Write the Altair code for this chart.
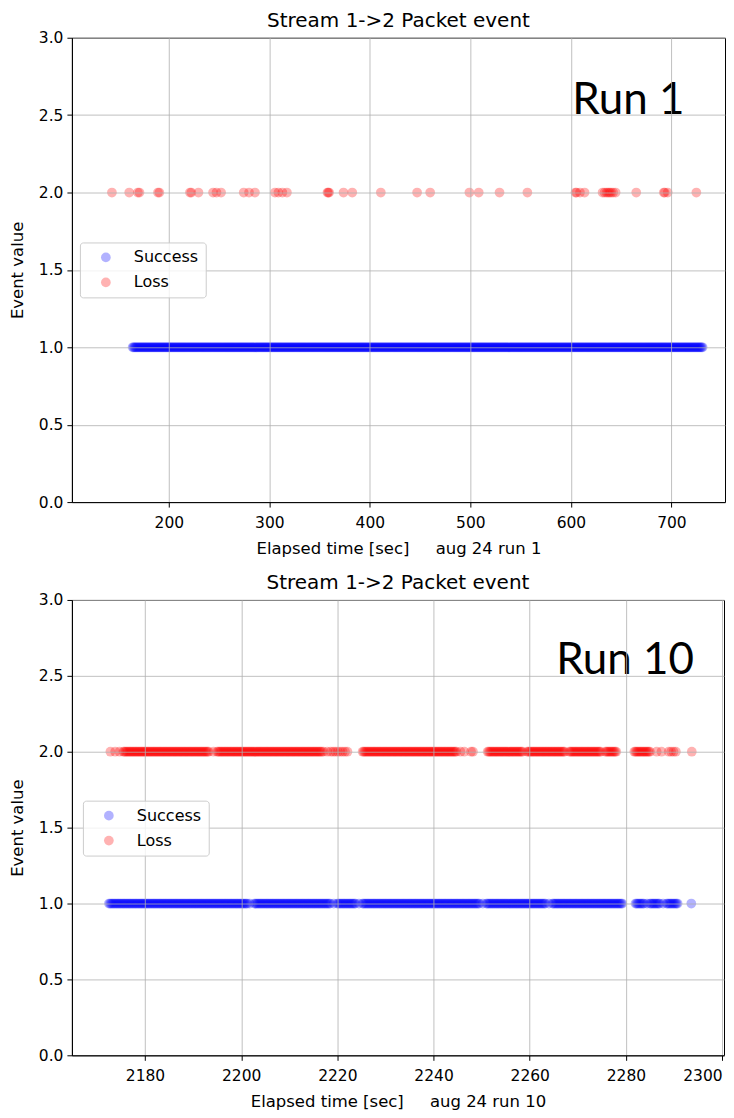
import altair as alt
import pandas as pd

FONT = "DejaVu Sans"
NBSP = "\u00a0"

# ---------------- data ----------------
series_names = ["Success", "Loss"]
series_colors = ["#0000ff", "#ff0000"]
series_event_value = [1.0, 2.0]

y_ticks = [0.0, 0.5, 1.0, 1.5, 2.0, 2.5, 3.0]
run1_x_ticks = [200, 300, 400, 500, 600, 700]
run10_x_ticks = [2180, 2200, 2220, 2240, 2260, 2280, 2300]

chart_title = "Stream 1->2 Packet event"
y_title = "Event value"
run1_x_title = "Elapsed time [sec]" + NBSP * 5 + "aug 24 run 1"
run10_x_title = "Elapsed time [sec]" + NBSP * 5 + "aug 24 run 10"
run1_label = ["Run 1"]
run10_label = ["Run 10"]

# Run 1: lost packets (sparse)
run1_loss_t = [143.4, 160.6, 169.2, 170.8, 189.2, 190.6, 221.0, 222.4, 229.5, 244.0,
               247.4, 252.0, 274.5, 279.8, 285.7, 305.6, 309.0, 313.0, 317.5, 357.8,
               358.6, 359.5, 373.8, 382.5, 410.9, 447.0, 460.0, 499.0, 508.3, 529.0,
               556.7, 604.5, 605.6, 609.0, 613.6, 631.5, 633.5, 635.5, 637.0, 638.5,
               640.0, 642.0, 644.5, 665.0, 692.4, 693.4, 696.3, 724.8]

# Run 1: successful packets (continuous band, one per second)
run1_success_t = [
    164, 165, 166, 167, 168, 169, 170, 171, 172, 173, 174, 175, 176, 177, 178, 179, 180, 181, 182, 183,
    184, 185, 186, 187, 188, 189, 190, 191, 192, 193, 194, 195, 196, 197, 198, 199, 200, 201, 202, 203,
    204, 205, 206, 207, 208, 209, 210, 211, 212, 213, 214, 215, 216, 217, 218, 219, 220, 221, 222, 223,
    224, 225, 226, 227, 228, 229, 230, 231, 232, 233, 234, 235, 236, 237, 238, 239, 240, 241, 242, 243,
    244, 245, 246, 247, 248, 249, 250, 251, 252, 253, 254, 255, 256, 257, 258, 259, 260, 261, 262, 263,
    264, 265, 266, 267, 268, 269, 270, 271, 272, 273, 274, 275, 276, 277, 278, 279, 280, 281, 282, 283,
    284, 285, 286, 287, 288, 289, 290, 291, 292, 293, 294, 295, 296, 297, 298, 299, 300, 301, 302, 303,
    304, 305, 306, 307, 308, 309, 310, 311, 312, 313, 314, 315, 316, 317, 318, 319, 320, 321, 322, 323,
    324, 325, 326, 327, 328, 329, 330, 331, 332, 333, 334, 335, 336, 337, 338, 339, 340, 341, 342, 343,
    344, 345, 346, 347, 348, 349, 350, 351, 352, 353, 354, 355, 356, 357, 358, 359, 360, 361, 362, 363,
    364, 365, 366, 367, 368, 369, 370, 371, 372, 373, 374, 375, 376, 377, 378, 379, 380, 381, 382, 383,
    384, 385, 386, 387, 388, 389, 390, 391, 392, 393, 394, 395, 396, 397, 398, 399, 400, 401, 402, 403,
    404, 405, 406, 407, 408, 409, 410, 411, 412, 413, 414, 415, 416, 417, 418, 419, 420, 421, 422, 423,
    424, 425, 426, 427, 428, 429, 430, 431, 432, 433, 434, 435, 436, 437, 438, 439, 440, 441, 442, 443,
    444, 445, 446, 447, 448, 449, 450, 451, 452, 453, 454, 455, 456, 457, 458, 459, 460, 461, 462, 463,
    464, 465, 466, 467, 468, 469, 470, 471, 472, 473, 474, 475, 476, 477, 478, 479, 480, 481, 482, 483,
    484, 485, 486, 487, 488, 489, 490, 491, 492, 493, 494, 495, 496, 497, 498, 499, 500, 501, 502, 503,
    504, 505, 506, 507, 508, 509, 510, 511, 512, 513, 514, 515, 516, 517, 518, 519, 520, 521, 522, 523,
    524, 525, 526, 527, 528, 529, 530, 531, 532, 533, 534, 535, 536, 537, 538, 539, 540, 541, 542, 543,
    544, 545, 546, 547, 548, 549, 550, 551, 552, 553, 554, 555, 556, 557, 558, 559, 560, 561, 562, 563,
    564, 565, 566, 567, 568, 569, 570, 571, 572, 573, 574, 575, 576, 577, 578, 579, 580, 581, 582, 583,
    584, 585, 586, 587, 588, 589, 590, 591, 592, 593, 594, 595, 596, 597, 598, 599, 600, 601, 602, 603,
    604, 605, 606, 607, 608, 609, 610, 611, 612, 613, 614, 615, 616, 617, 618, 619, 620, 621, 622, 623,
    624, 625, 626, 627, 628, 629, 630, 631, 632, 633, 634, 635, 636, 637, 638, 639, 640, 641, 642, 643,
    644, 645, 646, 647, 648, 649, 650, 651, 652, 653, 654, 655, 656, 657, 658, 659, 660, 661, 662, 663,
    664, 665, 666, 667, 668, 669, 670, 671, 672, 673, 674, 675, 676, 677, 678, 679, 680, 681, 682, 683,
    684, 685, 686, 687, 688, 689, 690, 691, 692, 693, 694, 695, 696, 697, 698, 699, 700, 701, 702, 703,
    704, 705, 706, 707, 708, 709, 710, 711, 712, 713, 714, 715, 716, 717, 718, 719, 720, 721, 722, 723,
    724, 725, 726, 727, 728, 729, 730, 731]

# Run 10: lost packets (dense band with gaps)
run10_loss_t = [
    2172.8, 2173.8, 2174.7,
    2175.5, 2175.75,
    2176, 2176.25, 2176.5, 2176.75, 2177, 2177.25, 2177.5, 2177.75,
    2178, 2178.25, 2178.5, 2178.75, 2179, 2179.25, 2179.5, 2179.75,
    2180, 2180.25, 2180.5, 2180.75, 2181, 2181.25, 2181.5, 2181.75,
    2182, 2182.25, 2182.5, 2182.75, 2183, 2183.25, 2183.5, 2183.75,
    2184, 2184.25, 2184.5, 2184.75, 2185, 2185.25, 2185.5, 2185.75,
    2186, 2186.25, 2186.5, 2186.75, 2187, 2187.25, 2187.5, 2187.75,
    2188, 2188.25, 2188.5, 2188.75, 2189, 2189.25, 2189.5, 2189.75,
    2190, 2190.25, 2190.5, 2190.75, 2191, 2191.25, 2191.5, 2191.75,
    2192, 2192.25, 2192.5, 2192.75, 2193, 2193.25,
    2194.25,
    2195, 2195.25, 2195.5, 2195.75, 2196, 2196.25, 2196.5, 2196.75,
    2197, 2197.25, 2197.5, 2197.75, 2198, 2198.25, 2198.5, 2198.75,
    2199, 2199.25, 2199.5, 2199.75, 2200, 2200.25, 2200.5, 2200.75,
    2201, 2201.25, 2201.5, 2201.75, 2202, 2202.25, 2202.5, 2202.75,
    2203, 2203.25, 2203.5, 2203.75, 2204, 2204.25, 2204.5, 2204.75,
    2205, 2205.25, 2205.5, 2205.75, 2206, 2206.25, 2206.5, 2206.75,
    2207, 2207.25, 2207.5, 2207.75, 2208, 2208.25, 2208.5, 2208.75,
    2209, 2209.25, 2209.5, 2209.75, 2210, 2210.25, 2210.5, 2210.75,
    2211, 2211.25, 2211.5, 2211.75, 2212, 2212.25, 2212.5, 2212.75,
    2213, 2213.25, 2213.5, 2213.75, 2214, 2214.25, 2214.5, 2214.75,
    2215, 2215.25, 2215.5, 2215.75, 2216, 2216.25, 2216.5, 2216.75,
    2217.1, 2217.9, 2218.6, 2219.1, 2219.6, 2220.1, 2220.6, 2221.1, 2221.6, 2222.1,
    2225.25, 2225.5, 2225.75,
    2226, 2226.25, 2226.5, 2226.75, 2227, 2227.25, 2227.5, 2227.75,
    2228, 2228.25, 2228.5, 2228.75, 2229, 2229.25, 2229.5, 2229.75,
    2230, 2230.25, 2230.5, 2230.75, 2231, 2231.25, 2231.5, 2231.75,
    2232, 2232.25, 2232.5, 2232.75, 2233, 2233.25, 2233.5, 2233.75,
    2234, 2234.25, 2234.5, 2234.75, 2235, 2235.25, 2235.5, 2235.75,
    2236, 2236.25, 2236.5, 2236.75, 2237, 2237.25, 2237.5, 2237.75,
    2238, 2238.25, 2238.5, 2238.75, 2239, 2239.25, 2239.5, 2239.75,
    2240, 2240.25, 2240.5, 2240.75, 2241, 2241.25, 2241.5, 2241.75,
    2242, 2242.25, 2242.5, 2242.75, 2243, 2243.25, 2243.5, 2243.75,
    2244, 2244.25, 2244.5, 2244.75,
    2245.6, 2246.4, 2247.8, 2248.2,
    2251.25, 2251.5, 2251.75,
    2252, 2252.25, 2252.5, 2252.75, 2253, 2253.25, 2253.5, 2253.75,
    2254, 2254.25, 2254.5, 2254.75, 2255, 2255.25, 2255.5, 2255.75,
    2256, 2256.25, 2256.5, 2256.75, 2257, 2257.25, 2257.5, 2257.75,
    2258, 2258.25, 2258.5,
    2259.5, 2259.75,
    2260, 2260.25, 2260.5, 2260.75, 2261, 2261.25, 2261.5, 2261.75,
    2262, 2262.25, 2262.5, 2262.75, 2263, 2263.25, 2263.5, 2263.75,
    2264, 2264.25, 2264.5, 2264.75, 2265, 2265.25, 2265.5, 2265.75,
    2266, 2266.25, 2266.5, 2266.75, 2267, 2267.25,
    2268.25, 2268.5, 2268.75,
    2269, 2269.25, 2269.5, 2269.75, 2270, 2270.25, 2270.5, 2270.75,
    2271, 2271.25, 2271.5, 2271.75, 2272, 2272.25, 2272.5, 2272.75,
    2273, 2273.25, 2273.5, 2273.75, 2274, 2274.25, 2274.5, 2274.75,
    2275.75, 2276, 2276.25, 2276.5, 2276.75, 2277, 2277.25, 2277.5, 2277.75, 2278,
    2281.75, 2282, 2282.25, 2282.5, 2282.75, 2283, 2283.25, 2283.5, 2283.75,
    2284, 2284.25, 2284.5, 2284.75, 2285,
    2286.4, 2287.4, 2288.9, 2289.4, 2289.9, 2290.4, 2293.7]

# Run 10: successful packets (dense band with small notches)
run10_success_t = [
    2172.5, 2172.75,
    2173, 2173.25, 2173.5, 2173.75, 2174, 2174.25, 2174.5, 2174.75,
    2175, 2175.25, 2175.5, 2175.75, 2176, 2176.25, 2176.5, 2176.75,
    2177, 2177.25, 2177.5, 2177.75, 2178, 2178.25, 2178.5, 2178.75,
    2179, 2179.25, 2179.5, 2179.75, 2180, 2180.25, 2180.5, 2180.75,
    2181, 2181.25, 2181.5, 2181.75, 2182, 2182.25, 2182.5, 2182.75,
    2183, 2183.25, 2183.5, 2183.75, 2184, 2184.25, 2184.5, 2184.75,
    2185, 2185.25, 2185.5, 2185.75, 2186, 2186.25, 2186.5, 2186.75,
    2187, 2187.25, 2187.5, 2187.75, 2188, 2188.25, 2188.5, 2188.75,
    2189, 2189.25, 2189.5, 2189.75, 2190, 2190.25, 2190.5, 2190.75,
    2191, 2191.25, 2191.5, 2191.75, 2192, 2192.25, 2192.5, 2192.75,
    2193, 2193.25, 2193.5, 2193.75, 2194, 2194.25, 2194.5, 2194.75,
    2195, 2195.25, 2195.5, 2195.75, 2196, 2196.25, 2196.5, 2196.75,
    2197, 2197.25, 2197.5, 2197.75, 2198, 2198.25, 2198.5, 2198.75,
    2199, 2199.25, 2199.5, 2199.75, 2200, 2200.25, 2200.5, 2200.75,
    2201, 2201.25, 2201.75,
    2202.75,
    2203, 2203.25, 2203.5, 2203.75, 2204, 2204.25, 2204.5, 2204.75,
    2205, 2205.25, 2205.5, 2205.75, 2206, 2206.25, 2206.5, 2206.75,
    2207, 2207.25, 2207.5, 2207.75, 2208, 2208.25, 2208.5, 2208.75,
    2209, 2209.25, 2209.5, 2209.75, 2210, 2210.25, 2210.5, 2210.75,
    2211, 2211.25, 2211.5, 2211.75, 2212, 2212.25, 2212.5, 2212.75,
    2213, 2213.25, 2213.5, 2213.75, 2214, 2214.25, 2214.5, 2214.75,
    2215, 2215.25, 2215.5, 2215.75, 2216, 2216.25, 2216.5, 2216.75,
    2217, 2217.25, 2217.5, 2217.75, 2218, 2218.25, 2218.5, 2219.25,
    2220, 2220.25, 2220.5, 2220.75, 2221, 2221.25, 2221.5, 2221.75,
    2222, 2222.25, 2222.5, 2222.75, 2223, 2223.25, 2223.5, 2223.75, 2224.5,
    2225.25, 2225.5, 2225.75,
    2226, 2226.25, 2226.5, 2226.75, 2227, 2227.25, 2227.5, 2227.75,
    2228, 2228.25, 2228.5, 2228.75, 2229, 2229.25, 2229.5, 2229.75,
    2230, 2230.25, 2230.5, 2230.75, 2231, 2231.25, 2231.5, 2231.75,
    2232, 2232.25, 2232.5, 2232.75, 2233, 2233.25, 2233.5, 2233.75,
    2234, 2234.25, 2234.5, 2234.75, 2235, 2235.25, 2235.5, 2235.75,
    2236, 2236.25, 2236.5, 2236.75, 2237, 2237.25, 2237.5, 2237.75,
    2238, 2238.25, 2238.5, 2238.75, 2239, 2239.25, 2239.5, 2239.75,
    2240, 2240.25, 2240.5, 2240.75, 2241, 2241.25, 2241.5, 2241.75,
    2242, 2242.25, 2242.5, 2242.75, 2243, 2243.25, 2243.5, 2243.75,
    2244, 2244.25, 2244.5, 2244.75, 2245, 2245.25, 2245.5, 2245.75,
    2246, 2246.25, 2246.5, 2246.75, 2247, 2247.25, 2247.5, 2247.75,
    2248, 2248.25, 2248.5, 2248.75, 2249, 2249.25, 2249.5, 2250.25,
    2251, 2251.25, 2251.5, 2251.75,
    2252, 2252.25, 2252.5, 2252.75, 2253, 2253.25, 2253.5, 2253.75,
    2254, 2254.25, 2254.5, 2254.75, 2255, 2255.25, 2255.5, 2255.75,
    2256, 2256.25, 2256.5, 2256.75, 2257, 2257.25, 2257.5, 2257.75,
    2258, 2258.25, 2258.5, 2258.75, 2259, 2259.25, 2259.5, 2259.75,
    2260, 2260.25, 2260.5, 2260.75, 2261, 2261.25, 2261.5, 2261.75,
    2262, 2262.25, 2262.5, 2262.75, 2263, 2263.25, 2264,
    2264.75,
    2265, 2265.25, 2265.5, 2265.75, 2266, 2266.25, 2266.5, 2266.75,
    2267, 2267.25, 2267.5, 2267.75, 2268, 2268.25, 2268.5, 2268.75,
    2269, 2269.25, 2269.5, 2269.75, 2270, 2270.25, 2270.5, 2270.75,
    2271, 2271.25, 2271.5, 2271.75, 2272, 2272.25, 2272.5, 2272.75,
    2273, 2273.25, 2273.5, 2273.75, 2274, 2274.25, 2274.5, 2274.75,
    2275, 2275.25, 2275.5, 2275.75, 2276, 2276.25, 2276.5, 2276.75,
    2277, 2277.25, 2277.5, 2277.75, 2278, 2278.25, 2278.5, 2278.75,
    2279, 2279.25,
    2282, 2282.25, 2282.5, 2282.75, 2283, 2283.25, 2283.5, 2283.75, 2284.4,
    2285, 2285.25, 2285.5, 2285.75, 2286, 2286.25, 2286.5, 2286.75, 2287, 2287.75,
    2288.5, 2288.75, 2289, 2289.25, 2289.5, 2289.75, 2290, 2290.25, 2290.5, 2290.75,
    2293.6]


def make_frame(success_t, loss_t):
    rows = []
    for name, val, ts in zip(series_names, series_event_value, [success_t, loss_t]):
        for t in ts:
            rows.append({"t": t, "event": val, "series": name})
    return pd.DataFrame(rows)


def panel(df, x_domain, x_ticks, x_title, label, legend_xy, label_xy, width, height):
    color = alt.Color(
        "series:N",
        scale=alt.Scale(domain=series_names, range=series_colors),
        legend=alt.Legend(
            title=None, orient="none", legendX=legend_xy[0], legendY=legend_xy[1],
            symbolType="circle", symbolSize=95, symbolOpacity=0.3, symbolStrokeWidth=0,
            labelFont=FONT, labelFontSize=16, labelColor="black",
            strokeColor="#cccccc", fillColor="rgba(255,255,255,0.8)", cornerRadius=3,
            padding=7, rowPadding=9, symbolOffset=11, labelOffset=20, zindex=2,
        ),
    )
    pts = alt.Chart(df).mark_circle(size=95, opacity=0.3).encode(
        x=alt.X(
            "t:Q",
            scale=alt.Scale(domain=x_domain, nice=False, zero=False),
            axis=alt.Axis(values=x_ticks, format="d", title=x_title, labelFlush=3,
                          labelPadding=8.5, titlePadding=9.5, zindex=1),
        ),
        y=alt.Y(
            "event:Q",
            scale=alt.Scale(domain=[0, 3], nice=False, zero=False),
            axis=alt.Axis(values=y_ticks, format=".1f", title=y_title,
                          labelPadding=4, titlePadding=13, zindex=1),
        ),
        color=color,
    )
    txt = alt.Chart(pd.DataFrame({"label": label})).mark_text(
        font="Lato", fontSize=44, align="left", baseline="alphabetic", color="black"
    ).encode(x=alt.value(label_xy[0]), y=alt.value(label_xy[1]), text="label:N")
    return alt.layer(pts, txt).properties(
        width=width, height=height,
        title=alt.TitleParams(chart_title, font=FONT, fontSize=20, fontWeight="normal",
                              color="black", anchor="middle", offset=0),
    )


top = panel(make_frame(run1_success_t, run1_loss_t), [103.6, 753.3], run1_x_ticks,
            run1_x_title, run1_label, (8, 205), (501, 76), 654, 465)
bottom = panel(make_frame(run10_success_t, run10_loss_t), [2164.8, 2300.4], run10_x_ticks,
               run10_x_title, run10_label, (11, 201), (485, 74), 653, 456)

chart = (
    alt.vconcat(top, bottom, spacing=14)
    .resolve_scale(color="independent")
    .resolve_legend(color="independent")
    .properties(padding={"top": 1, "left": 0, "right": 0, "bottom": 0})
    .configure_view(stroke="black", strokeWidth=1)
    .configure_axis(
        labelFont=FONT, labelFontSize=15.5, labelColor="black",
        titleFont=FONT, titleFontSize=16.5, titleFontWeight="normal", titleColor="black",
        domainColor="black", domainWidth=1, tickColor="black", tickSize=5, tickWidth=1,
        gridColor="#b0b0b0", gridWidth=0.8, grid=True,
    )
)

chart.save("out.html", embed_options={"renderer": "svg", "actions": False})
